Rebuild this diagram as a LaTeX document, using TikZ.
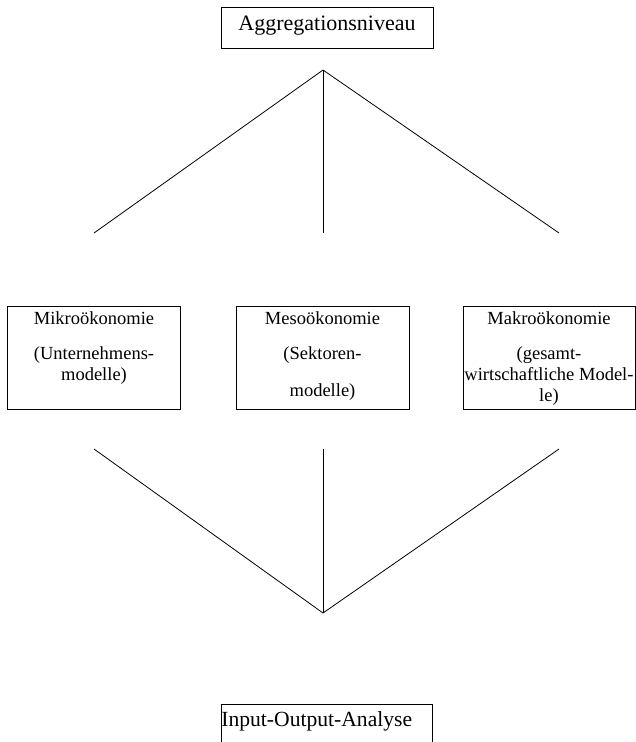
\documentclass[tikz,border=0pt]{standalone}
\usepackage{fontspec}
\setmainfont{Liberation Serif}
\usepackage{tikz}
\usetikzlibrary{calc}
\tikzset{ebene/.style={
    draw=black,
    line width=0.8pt,
    inner sep=0pt,
    minimum width=173pt,
    text height=18pt,
    text depth=85pt,
    font=\fontsize{18.5}{21}\selectfont},
  kopf/.style={
    draw=black,
    line width=0.8pt,
    inner sep=0pt,
    font=\fontsize{22}{24}\selectfont}}

\begin{document}
\begin{tikzpicture}[x=1pt,y=-1pt]
\useasboundingbox (0,0) rectangle (635,742);
	\coordinate (T) at (323,70);
\coordinate (L1) at (94,233);
\coordinate (M1) at (323,233);
\coordinate (R1) at (559,233);
\coordinate (L2) at (94,449);
\coordinate (M2) at (323,449);
\coordinate (R2) at (559,449);
\coordinate (U) at (323,613);

\node[kopf, minimum width=212pt, text height=23pt, text depth=18pt, anchor=base] (aggregation) at (327,30) {Aggregationsniveau};

\node[ebene, anchor=base] (mikro) at (94,324) {\begin{tabular}[t]{@{}c@{}}Mikroökonomie\\[14pt](Unternehmens-\\modelle)\end{tabular}};
\node[ebene, anchor=base] (meso) at (322.5,324) {\begin{tabular}[t]{@{}c@{}}Mesoökonomie\\[14pt](Sektoren-\\[16pt]modelle)\end{tabular}};
\node[ebene, minimum width=172pt, anchor=base] (makro) at (549,324) {\begin{tabular}[t]{@{}c@{}}Makroökonomie\\[14pt](gesamt-\\wirtschaftliche Model-\\le)\end{tabular}};

\node[kopf, font=\fontsize{21.6}{24}\selectfont, text width=211pt, align=left, text height=22pt, text depth=40pt, anchor=base west] (io) at (221,726) {Input-Output-Analyse};

\path[draw=black, line width=0.8pt] (L1) -- (T) -- (R1);
\path[draw=black, line width=0.8pt] (T) -- (M1);
\path[draw=black, line width=0.8pt] (L2) -- (U) -- (R2);
\path[draw=black, line width=0.8pt] (M2) -- (U);
  
\end{tikzpicture}
\end{document}
